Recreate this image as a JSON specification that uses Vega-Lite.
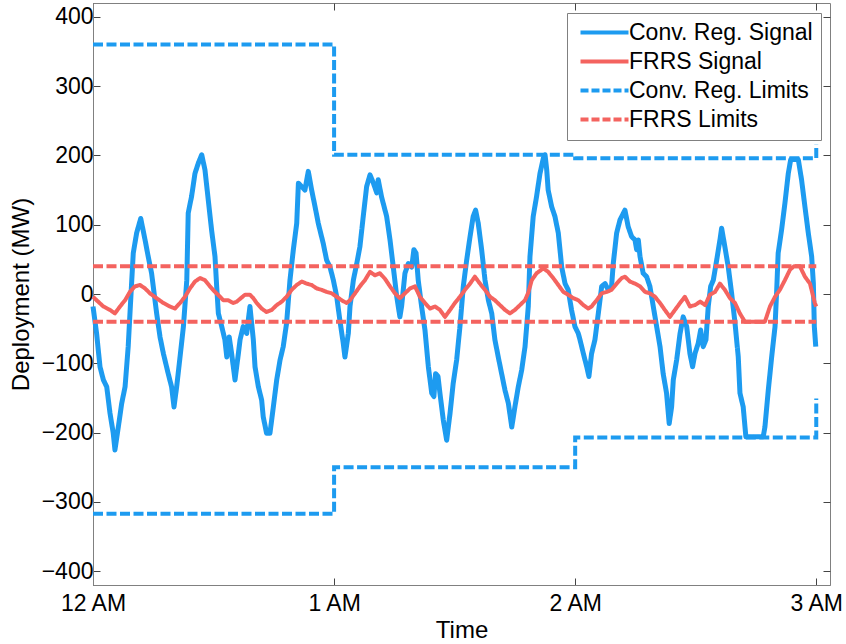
{
  "$schema": "https://vega.github.io/schema/vega-lite/v6.json",
  "width": 737,
  "height": 582,
  "autosize": {"type": "none"},
  "padding": {"left": 93, "top": 3, "right": 16, "bottom": 59},
  "background": "white",
  "config": {
    "font": "Liberation Sans",
    "view": {"stroke": "#808080", "strokeWidth": 1},
    "axis": {
      "domainColor": "#808080",
      "tickColor": "#444444",
      "tickSize": -7,
      "labelFontSize": 23,
      "titleFontSize": 24,
      "labelColor": "black",
      "titleColor": "black",
      "titleFontWeight": "normal",
      "grid": false,
      "labelFlush": false,
      "labelOverlap": false,
      "labelFont": "Liberation Sans",
      "titleFont": "Liberation Sans"
    },
    "legend": {
      "orient": "none",
      "legendX": 474,
      "legendY": 10,
      "labelFontSize": 23,
      "labelFont": "Liberation Sans",
      "labelColor": "black",
      "symbolType": "M-0.75,0H5.25",
      "symbolSize": 256,
      "symbolStrokeWidth": 4,
      "padding": 8,
      "strokeColor": "#808080",
      "fillColor": "white",
      "labelOffset": 31,
      "rowPadding": 5,
      "labelLimit": 400
    }
  },
  "datasets": {
    "conv": [
      {"s":"Conv. Reg. Signal","h":0,"v":-18},{"s":"Conv. Reg. Signal","h":0.015,"v":-57},{"s":"Conv. Reg. Signal","h":0.029,"v":-105},{"s":"Conv. Reg. Signal","h":0.043,"v":-124},{"s":"Conv. Reg. Signal","h":0.057,"v":-134},{"s":"Conv. Reg. Signal","h":0.0705,"v":-172},{"s":"Conv. Reg. Signal","h":0.084,"v":-201},{"s":"Conv. Reg. Signal","h":0.091,"v":-225},{"s":"Conv. Reg. Signal","h":0.105,"v":-192},{"s":"Conv. Reg. Signal","h":0.119,"v":-158},{"s":"Conv. Reg. Signal","h":0.133,"v":-134},{"s":"Conv. Reg. Signal","h":0.146,"v":-76},{"s":"Conv. Reg. Signal","h":0.16,"v":15},{"s":"Conv. Reg. Signal","h":0.167,"v":59},{"s":"Conv. Reg. Signal","h":0.181,"v":88},{"s":"Conv. Reg. Signal","h":0.198,"v":109},{"s":"Conv. Reg. Signal","h":0.216,"v":78},{"s":"Conv. Reg. Signal","h":0.229,"v":54},{"s":"Conv. Reg. Signal","h":0.243,"v":30},{"s":"Conv. Reg. Signal","h":0.264,"v":-28},{"s":"Conv. Reg. Signal","h":0.278,"v":-62},{"s":"Conv. Reg. Signal","h":0.292,"v":-86},{"s":"Conv. Reg. Signal","h":0.312,"v":-115},{"s":"Conv. Reg. Signal","h":0.326,"v":-134},{"s":"Conv. Reg. Signal","h":0.336,"v":-163},{"s":"Conv. Reg. Signal","h":0.347,"v":-134},{"s":"Conv. Reg. Signal","h":0.361,"v":-91},{"s":"Conv. Reg. Signal","h":0.375,"v":-47},{"s":"Conv. Reg. Signal","h":0.389,"v":20},{"s":"Conv. Reg. Signal","h":0.395,"v":117},{"s":"Conv. Reg. Signal","h":0.409,"v":141},{"s":"Conv. Reg. Signal","h":0.423,"v":174},{"s":"Conv. Reg. Signal","h":0.437,"v":189},{"s":"Conv. Reg. Signal","h":0.451,"v":201},{"s":"Conv. Reg. Signal","h":0.4645,"v":179},{"s":"Conv. Reg. Signal","h":0.478,"v":136},{"s":"Conv. Reg. Signal","h":0.492,"v":92},{"s":"Conv. Reg. Signal","h":0.506,"v":54},{"s":"Conv. Reg. Signal","h":0.513,"v":11},{"s":"Conv. Reg. Signal","h":0.52,"v":-28},{"s":"Conv. Reg. Signal","h":0.534,"v":-47},{"s":"Conv. Reg. Signal","h":0.547,"v":-66},{"s":"Conv. Reg. Signal","h":0.555,"v":-91},{"s":"Conv. Reg. Signal","h":0.565,"v":-62},{"s":"Conv. Reg. Signal","h":0.575,"v":-86},{"s":"Conv. Reg. Signal","h":0.589,"v":-124},{"s":"Conv. Reg. Signal","h":0.603,"v":-86},{"s":"Conv. Reg. Signal","h":0.61,"v":-66},{"s":"Conv. Reg. Signal","h":0.623,"v":-47},{"s":"Conv. Reg. Signal","h":0.6375,"v":-57},{"s":"Conv. Reg. Signal","h":0.651,"v":-18},{"s":"Conv. Reg. Signal","h":0.665,"v":-66},{"s":"Conv. Reg. Signal","h":0.672,"v":-105},{"s":"Conv. Reg. Signal","h":0.686,"v":-134},{"s":"Conv. Reg. Signal","h":0.6995,"v":-153},{"s":"Conv. Reg. Signal","h":0.706,"v":-177},{"s":"Conv. Reg. Signal","h":0.72,"v":-201},{"s":"Conv. Reg. Signal","h":0.734,"v":-201},{"s":"Conv. Reg. Signal","h":0.748,"v":-163},{"s":"Conv. Reg. Signal","h":0.762,"v":-124},{"s":"Conv. Reg. Signal","h":0.776,"v":-95},{"s":"Conv. Reg. Signal","h":0.789,"v":-76},{"s":"Conv. Reg. Signal","h":0.803,"v":-42},{"s":"Conv. Reg. Signal","h":0.817,"v":20},{"s":"Conv. Reg. Signal","h":0.831,"v":64},{"s":"Conv. Reg. Signal","h":0.845,"v":102},{"s":"Conv. Reg. Signal","h":0.852,"v":160},{"s":"Conv. Reg. Signal","h":0.866,"v":155},{"s":"Conv. Reg. Signal","h":0.879,"v":150},{"s":"Conv. Reg. Signal","h":0.893,"v":177},{"s":"Conv. Reg. Signal","h":0.907,"v":150},{"s":"Conv. Reg. Signal","h":0.921,"v":126},{"s":"Conv. Reg. Signal","h":0.9345,"v":102},{"s":"Conv. Reg. Signal","h":0.9415,"v":92},{"s":"Conv. Reg. Signal","h":0.955,"v":73},{"s":"Conv. Reg. Signal","h":0.969,"v":49},{"s":"Conv. Reg. Signal","h":0.983,"v":39},{"s":"Conv. Reg. Signal","h":0.997,"v":20},{"s":"Conv. Reg. Signal","h":1.011,"v":-4},{"s":"Conv. Reg. Signal","h":1.024,"v":-38},{"s":"Conv. Reg. Signal","h":1.038,"v":-71},{"s":"Conv. Reg. Signal","h":1.045,"v":-91},{"s":"Conv. Reg. Signal","h":1.059,"v":-57},{"s":"Conv. Reg. Signal","h":1.066,"v":-18},{"s":"Conv. Reg. Signal","h":1.08,"v":20},{"s":"Conv. Reg. Signal","h":1.094,"v":44},{"s":"Conv. Reg. Signal","h":1.107,"v":68},{"s":"Conv. Reg. Signal","h":1.121,"v":112},{"s":"Conv. Reg. Signal","h":1.135,"v":155},{"s":"Conv. Reg. Signal","h":1.149,"v":172},{"s":"Conv. Reg. Signal","h":1.163,"v":160},{"s":"Conv. Reg. Signal","h":1.177,"v":146},{"s":"Conv. Reg. Signal","h":1.183,"v":165},{"s":"Conv. Reg. Signal","h":1.197,"v":140},{"s":"Conv. Reg. Signal","h":1.218,"v":112},{"s":"Conv. Reg. Signal","h":1.232,"v":78},{"s":"Conv. Reg. Signal","h":1.2455,"v":39},{"s":"Conv. Reg. Signal","h":1.26,"v":-4},{"s":"Conv. Reg. Signal","h":1.273,"v":-33},{"s":"Conv. Reg. Signal","h":1.28,"v":-18},{"s":"Conv. Reg. Signal","h":1.294,"v":30},{"s":"Conv. Reg. Signal","h":1.308,"v":44},{"s":"Conv. Reg. Signal","h":1.322,"v":39},{"s":"Conv. Reg. Signal","h":1.331,"v":64},{"s":"Conv. Reg. Signal","h":1.34,"v":59},{"s":"Conv. Reg. Signal","h":1.349,"v":20},{"s":"Conv. Reg. Signal","h":1.363,"v":-18},{"s":"Conv. Reg. Signal","h":1.377,"v":-52},{"s":"Conv. Reg. Signal","h":1.391,"v":-105},{"s":"Conv. Reg. Signal","h":1.405,"v":-143},{"s":"Conv. Reg. Signal","h":1.414,"v":-148},{"s":"Conv. Reg. Signal","h":1.421,"v":-115},{"s":"Conv. Reg. Signal","h":1.431,"v":-119},{"s":"Conv. Reg. Signal","h":1.439,"v":-143},{"s":"Conv. Reg. Signal","h":1.453,"v":-182},{"s":"Conv. Reg. Signal","h":1.467,"v":-211},{"s":"Conv. Reg. Signal","h":1.481,"v":-172},{"s":"Conv. Reg. Signal","h":1.494,"v":-129},{"s":"Conv. Reg. Signal","h":1.5085,"v":-95},{"s":"Conv. Reg. Signal","h":1.522,"v":-47},{"s":"Conv. Reg. Signal","h":1.536,"v":11},{"s":"Conv. Reg. Signal","h":1.55,"v":49},{"s":"Conv. Reg. Signal","h":1.564,"v":83},{"s":"Conv. Reg. Signal","h":1.577,"v":112},{"s":"Conv. Reg. Signal","h":1.587,"v":121},{"s":"Conv. Reg. Signal","h":1.598,"v":102},{"s":"Conv. Reg. Signal","h":1.612,"v":64},{"s":"Conv. Reg. Signal","h":1.626,"v":20},{"s":"Conv. Reg. Signal","h":1.64,"v":-9},{"s":"Conv. Reg. Signal","h":1.654,"v":-28},{"s":"Conv. Reg. Signal","h":1.667,"v":-66},{"s":"Conv. Reg. Signal","h":1.681,"v":-91},{"s":"Conv. Reg. Signal","h":1.695,"v":-115},{"s":"Conv. Reg. Signal","h":1.709,"v":-139},{"s":"Conv. Reg. Signal","h":1.723,"v":-158},{"s":"Conv. Reg. Signal","h":1.737,"v":-192},{"s":"Conv. Reg. Signal","h":1.75,"v":-163},{"s":"Conv. Reg. Signal","h":1.764,"v":-134},{"s":"Conv. Reg. Signal","h":1.778,"v":-110},{"s":"Conv. Reg. Signal","h":1.792,"v":-76},{"s":"Conv. Reg. Signal","h":1.8055,"v":-18},{"s":"Conv. Reg. Signal","h":1.8125,"v":54},{"s":"Conv. Reg. Signal","h":1.826,"v":112},{"s":"Conv. Reg. Signal","h":1.84,"v":141},{"s":"Conv. Reg. Signal","h":1.854,"v":174},{"s":"Conv. Reg. Signal","h":1.868,"v":196},{"s":"Conv. Reg. Signal","h":1.875,"v":201},{"s":"Conv. Reg. Signal","h":1.882,"v":179},{"s":"Conv. Reg. Signal","h":1.888,"v":150},{"s":"Conv. Reg. Signal","h":1.9025,"v":126},{"s":"Conv. Reg. Signal","h":1.916,"v":112},{"s":"Conv. Reg. Signal","h":1.93,"v":88},{"s":"Conv. Reg. Signal","h":1.937,"v":64},{"s":"Conv. Reg. Signal","h":1.944,"v":39},{"s":"Conv. Reg. Signal","h":1.958,"v":15},{"s":"Conv. Reg. Signal","h":1.971,"v":6},{"s":"Conv. Reg. Signal","h":1.985,"v":-23},{"s":"Conv. Reg. Signal","h":1.999,"v":-47},{"s":"Conv. Reg. Signal","h":2.013,"v":-57},{"s":"Conv. Reg. Signal","h":2.02,"v":-66},{"s":"Conv. Reg. Signal","h":2.034,"v":-86},{"s":"Conv. Reg. Signal","h":2.048,"v":-105},{"s":"Conv. Reg. Signal","h":2.057,"v":-119},{"s":"Conv. Reg. Signal","h":2.068,"v":-86},{"s":"Conv. Reg. Signal","h":2.082,"v":-66},{"s":"Conv. Reg. Signal","h":2.096,"v":-28},{"s":"Conv. Reg. Signal","h":2.11,"v":11},{"s":"Conv. Reg. Signal","h":2.124,"v":15},{"s":"Conv. Reg. Signal","h":2.137,"v":6},{"s":"Conv. Reg. Signal","h":2.151,"v":11},{"s":"Conv. Reg. Signal","h":2.158,"v":44},{"s":"Conv. Reg. Signal","h":2.172,"v":88},{"s":"Conv. Reg. Signal","h":2.186,"v":107},{"s":"Conv. Reg. Signal","h":2.2065,"v":121},{"s":"Conv. Reg. Signal","h":2.22,"v":97},{"s":"Conv. Reg. Signal","h":2.234,"v":83},{"s":"Conv. Reg. Signal","h":2.248,"v":78},{"s":"Conv. Reg. Signal","h":2.255,"v":64},{"s":"Conv. Reg. Signal","h":2.262,"v":78},{"s":"Conv. Reg. Signal","h":2.269,"v":54},{"s":"Conv. Reg. Signal","h":2.282,"v":30},{"s":"Conv. Reg. Signal","h":2.2965,"v":25},{"s":"Conv. Reg. Signal","h":2.31,"v":11},{"s":"Conv. Reg. Signal","h":2.324,"v":-18},{"s":"Conv. Reg. Signal","h":2.338,"v":-47},{"s":"Conv. Reg. Signal","h":2.352,"v":-76},{"s":"Conv. Reg. Signal","h":2.365,"v":-115},{"s":"Conv. Reg. Signal","h":2.379,"v":-143},{"s":"Conv. Reg. Signal","h":2.39,"v":-187},{"s":"Conv. Reg. Signal","h":2.4,"v":-163},{"s":"Conv. Reg. Signal","h":2.407,"v":-124},{"s":"Conv. Reg. Signal","h":2.421,"v":-95},{"s":"Conv. Reg. Signal","h":2.435,"v":-57},{"s":"Conv. Reg. Signal","h":2.448,"v":-33},{"s":"Conv. Reg. Signal","h":2.4625,"v":-47},{"s":"Conv. Reg. Signal","h":2.476,"v":-86},{"s":"Conv. Reg. Signal","h":2.487,"v":-105},{"s":"Conv. Reg. Signal","h":2.497,"v":-86},{"s":"Conv. Reg. Signal","h":2.5105,"v":-71},{"s":"Conv. Reg. Signal","h":2.5205,"v":-52},{"s":"Conv. Reg. Signal","h":2.531,"v":-76},{"s":"Conv. Reg. Signal","h":2.5425,"v":-66},{"s":"Conv. Reg. Signal","h":2.552,"v":-18},{"s":"Conv. Reg. Signal","h":2.562,"v":11},{"s":"Conv. Reg. Signal","h":2.573,"v":20},{"s":"Conv. Reg. Signal","h":2.587,"v":49},{"s":"Conv. Reg. Signal","h":2.6005,"v":78},{"s":"Conv. Reg. Signal","h":2.6075,"v":95},{"s":"Conv. Reg. Signal","h":2.621,"v":68},{"s":"Conv. Reg. Signal","h":2.635,"v":39},{"s":"Conv. Reg. Signal","h":2.649,"v":1},{"s":"Conv. Reg. Signal","h":2.663,"v":-42},{"s":"Conv. Reg. Signal","h":2.6765,"v":-91},{"s":"Conv. Reg. Signal","h":2.6835,"v":-143},{"s":"Conv. Reg. Signal","h":2.697,"v":-163},{"s":"Conv. Reg. Signal","h":2.708,"v":-206},{"s":"Conv. Reg. Signal","h":2.78,"v":-206},{"s":"Conv. Reg. Signal","h":2.787,"v":-192},{"s":"Conv. Reg. Signal","h":2.801,"v":-139},{"s":"Conv. Reg. Signal","h":2.815,"v":-91},{"s":"Conv. Reg. Signal","h":2.829,"v":-47},{"s":"Conv. Reg. Signal","h":2.836,"v":6},{"s":"Conv. Reg. Signal","h":2.842,"v":59},{"s":"Conv. Reg. Signal","h":2.856,"v":92},{"s":"Conv. Reg. Signal","h":2.87,"v":131},{"s":"Conv. Reg. Signal","h":2.884,"v":174},{"s":"Conv. Reg. Signal","h":2.894,"v":194},{"s":"Conv. Reg. Signal","h":2.9255,"v":194},{"s":"Conv. Reg. Signal","h":2.939,"v":165},{"s":"Conv. Reg. Signal","h":2.953,"v":126},{"s":"Conv. Reg. Signal","h":2.967,"v":88},{"s":"Conv. Reg. Signal","h":2.981,"v":54},{"s":"Conv. Reg. Signal","h":2.988,"v":15},{"s":"Conv. Reg. Signal","h":2.992,"v":-47},{"s":"Conv. Reg. Signal","h":2.998,"v":-76}
    ],
    "frrs": [
      {"s":"FRRS Signal","h":0,"v":-4},{"s":"FRRS Signal","h":0.015,"v":-9},{"s":"FRRS Signal","h":0.043,"v":-18},{"s":"FRRS Signal","h":0.0705,"v":-23},{"s":"FRRS Signal","h":0.091,"v":-28},{"s":"FRRS Signal","h":0.112,"v":-18},{"s":"FRRS Signal","h":0.133,"v":-9},{"s":"FRRS Signal","h":0.153,"v":3},{"s":"FRRS Signal","h":0.174,"v":11},{"s":"FRRS Signal","h":0.195,"v":13},{"s":"FRRS Signal","h":0.216,"v":8},{"s":"FRRS Signal","h":0.236,"v":1},{"s":"FRRS Signal","h":0.264,"v":-6},{"s":"FRRS Signal","h":0.292,"v":-13},{"s":"FRRS Signal","h":0.319,"v":-18},{"s":"FRRS Signal","h":0.34,"v":-21},{"s":"FRRS Signal","h":0.361,"v":-13},{"s":"FRRS Signal","h":0.3815,"v":-4},{"s":"FRRS Signal","h":0.402,"v":8},{"s":"FRRS Signal","h":0.423,"v":18},{"s":"FRRS Signal","h":0.444,"v":23},{"s":"FRRS Signal","h":0.4645,"v":20},{"s":"FRRS Signal","h":0.485,"v":11},{"s":"FRRS Signal","h":0.506,"v":3},{"s":"FRRS Signal","h":0.527,"v":-4},{"s":"FRRS Signal","h":0.5405,"v":-9},{"s":"FRRS Signal","h":0.561,"v":-9},{"s":"FRRS Signal","h":0.582,"v":-13},{"s":"FRRS Signal","h":0.596,"v":-11},{"s":"FRRS Signal","h":0.61,"v":-7},{"s":"FRRS Signal","h":0.6305,"v":-1},{"s":"FRRS Signal","h":0.651,"v":-1},{"s":"FRRS Signal","h":0.665,"v":-6},{"s":"FRRS Signal","h":0.679,"v":-13},{"s":"FRRS Signal","h":0.6995,"v":-21},{"s":"FRRS Signal","h":0.72,"v":-26},{"s":"FRRS Signal","h":0.741,"v":-23},{"s":"FRRS Signal","h":0.762,"v":-16},{"s":"FRRS Signal","h":0.783,"v":-11},{"s":"FRRS Signal","h":0.803,"v":-4},{"s":"FRRS Signal","h":0.824,"v":6},{"s":"FRRS Signal","h":0.845,"v":13},{"s":"FRRS Signal","h":0.866,"v":18},{"s":"FRRS Signal","h":0.886,"v":15},{"s":"FRRS Signal","h":0.907,"v":13},{"s":"FRRS Signal","h":0.928,"v":8},{"s":"FRRS Signal","h":0.9485,"v":6},{"s":"FRRS Signal","h":0.969,"v":3},{"s":"FRRS Signal","h":0.99,"v":1},{"s":"FRRS Signal","h":1.011,"v":-4},{"s":"FRRS Signal","h":1.0315,"v":-9},{"s":"FRRS Signal","h":1.052,"v":-13},{"s":"FRRS Signal","h":1.066,"v":-9},{"s":"FRRS Signal","h":1.087,"v":1},{"s":"FRRS Signal","h":1.107,"v":11},{"s":"FRRS Signal","h":1.128,"v":20},{"s":"FRRS Signal","h":1.149,"v":32},{"s":"FRRS Signal","h":1.1695,"v":27},{"s":"FRRS Signal","h":1.19,"v":30},{"s":"FRRS Signal","h":1.211,"v":22},{"s":"FRRS Signal","h":1.232,"v":11},{"s":"FRRS Signal","h":1.2525,"v":1},{"s":"FRRS Signal","h":1.273,"v":-6},{"s":"FRRS Signal","h":1.294,"v":1},{"s":"FRRS Signal","h":1.315,"v":8},{"s":"FRRS Signal","h":1.3355,"v":11},{"s":"FRRS Signal","h":1.356,"v":-4},{"s":"FRRS Signal","h":1.377,"v":-13},{"s":"FRRS Signal","h":1.398,"v":-21},{"s":"FRRS Signal","h":1.4185,"v":-18},{"s":"FRRS Signal","h":1.439,"v":-23},{"s":"FRRS Signal","h":1.46,"v":-33},{"s":"FRRS Signal","h":1.481,"v":-23},{"s":"FRRS Signal","h":1.501,"v":-13},{"s":"FRRS Signal","h":1.522,"v":-4},{"s":"FRRS Signal","h":1.543,"v":6},{"s":"FRRS Signal","h":1.564,"v":15},{"s":"FRRS Signal","h":1.584,"v":25},{"s":"FRRS Signal","h":1.605,"v":15},{"s":"FRRS Signal","h":1.626,"v":6},{"s":"FRRS Signal","h":1.647,"v":-4},{"s":"FRRS Signal","h":1.667,"v":-9},{"s":"FRRS Signal","h":1.688,"v":-16},{"s":"FRRS Signal","h":1.709,"v":-23},{"s":"FRRS Signal","h":1.7295,"v":-28},{"s":"FRRS Signal","h":1.75,"v":-23},{"s":"FRRS Signal","h":1.771,"v":-16},{"s":"FRRS Signal","h":1.792,"v":-9},{"s":"FRRS Signal","h":1.8055,"v":2},{"s":"FRRS Signal","h":1.82,"v":20},{"s":"FRRS Signal","h":1.84,"v":30},{"s":"FRRS Signal","h":1.868,"v":37},{"s":"FRRS Signal","h":1.888,"v":32},{"s":"FRRS Signal","h":1.909,"v":23},{"s":"FRRS Signal","h":1.93,"v":13},{"s":"FRRS Signal","h":1.951,"v":3},{"s":"FRRS Signal","h":1.971,"v":-1},{"s":"FRRS Signal","h":1.992,"v":-6},{"s":"FRRS Signal","h":2.013,"v":-9},{"s":"FRRS Signal","h":2.034,"v":-16},{"s":"FRRS Signal","h":2.054,"v":-21},{"s":"FRRS Signal","h":2.068,"v":-18},{"s":"FRRS Signal","h":2.089,"v":-9},{"s":"FRRS Signal","h":2.11,"v":1},{"s":"FRRS Signal","h":2.131,"v":3},{"s":"FRRS Signal","h":2.151,"v":6},{"s":"FRRS Signal","h":2.172,"v":15},{"s":"FRRS Signal","h":2.193,"v":23},{"s":"FRRS Signal","h":2.2065,"v":25},{"s":"FRRS Signal","h":2.227,"v":18},{"s":"FRRS Signal","h":2.248,"v":15},{"s":"FRRS Signal","h":2.269,"v":11},{"s":"FRRS Signal","h":2.29,"v":3},{"s":"FRRS Signal","h":2.31,"v":1},{"s":"FRRS Signal","h":2.331,"v":-4},{"s":"FRRS Signal","h":2.352,"v":-13},{"s":"FRRS Signal","h":2.372,"v":-23},{"s":"FRRS Signal","h":2.393,"v":-33},{"s":"FRRS Signal","h":2.414,"v":-23},{"s":"FRRS Signal","h":2.435,"v":-13},{"s":"FRRS Signal","h":2.455,"v":-4},{"s":"FRRS Signal","h":2.476,"v":-18},{"s":"FRRS Signal","h":2.497,"v":-16},{"s":"FRRS Signal","h":2.5185,"v":-11},{"s":"FRRS Signal","h":2.539,"v":-16},{"s":"FRRS Signal","h":2.559,"v":-1},{"s":"FRRS Signal","h":2.58,"v":3},{"s":"FRRS Signal","h":2.6005,"v":15},{"s":"FRRS Signal","h":2.621,"v":6},{"s":"FRRS Signal","h":2.642,"v":-6},{"s":"FRRS Signal","h":2.663,"v":-13},{"s":"FRRS Signal","h":2.683,"v":-28},{"s":"FRRS Signal","h":2.704,"v":-40},{"s":"FRRS Signal","h":2.787,"v":-40},{"s":"FRRS Signal","h":2.808,"v":-18},{"s":"FRRS Signal","h":2.829,"v":-4},{"s":"FRRS Signal","h":2.849,"v":6},{"s":"FRRS Signal","h":2.87,"v":20},{"s":"FRRS Signal","h":2.891,"v":35},{"s":"FRRS Signal","h":2.9075,"v":40},{"s":"FRRS Signal","h":2.932,"v":40},{"s":"FRRS Signal","h":2.953,"v":25},{"s":"FRRS Signal","h":2.974,"v":15},{"s":"FRRS Signal","h":2.994,"v":-13},{"s":"FRRS Signal","h":3.0,"v":-18}
    ],
    "convlim": [
      {"s":"Conv. Reg. Limits","p":"up","i":0,"h":0,"v":360},{"s":"Conv. Reg. Limits","p":"up","i":1,"h":1,"v":360},{"s":"Conv. Reg. Limits","p":"up","i":2,"h":1,"v":201},{"s":"Conv. Reg. Limits","p":"up","i":3,"h":2,"v":201},{"s":"Conv. Reg. Limits","p":"up","i":4,"h":2,"v":196},{"s":"Conv. Reg. Limits","p":"up","i":5,"h":3,"v":196},{"s":"Conv. Reg. Limits","p":"up","i":6,"h":3,"v":216},
      {"s":"Conv. Reg. Limits","p":"lo","i":0,"h":0,"v":-317},{"s":"Conv. Reg. Limits","p":"lo","i":1,"h":1,"v":-317},{"s":"Conv. Reg. Limits","p":"lo","i":2,"h":1,"v":-250},{"s":"Conv. Reg. Limits","p":"lo","i":3,"h":2,"v":-250},{"s":"Conv. Reg. Limits","p":"lo","i":4,"h":2,"v":-207},{"s":"Conv. Reg. Limits","p":"lo","i":5,"h":3,"v":-207},{"s":"Conv. Reg. Limits","p":"lo","i":6,"h":3,"v":-151}
    ],
    "frrslim": [
      {"s":"FRRS Limits","p":"up","i":0,"h":0,"v":40},{"s":"FRRS Limits","p":"up","i":1,"h":3,"v":40},
      {"s":"FRRS Limits","p":"lo","i":0,"h":0,"v":-40},{"s":"FRRS Limits","p":"lo","i":1,"h":3,"v":-40}
    ]
  },
  "layer": [
    {
      "data": {"name": "conv"},
      "mark": {"type": "line", "strokeWidth": 5, "strokeJoin": "round"},
      "encoding": {
        "x": {"field": "h", "type": "quantitative", "scale": {"domain": [0, 3.057], "nice": false, "zero": false},
              "axis": {"orient": "bottom", "values": [0, 1, 2, 3], "labelExpr": "datum.value == 0 ? '12 AM' : datum.value + ' AM'", "title": "Time", "labelPadding": 14, "titlePadding": 3}},
        "y": {"field": "v", "type": "quantitative", "scale": {"domain": [-420, 420], "nice": false, "zero": false},
              "axis": {"orient": "left", "values": [-400, -300, -200, -100, 0, 100, 200, 300, 400], "title": "Deployment (MW)", "labelPadding": 7, "titlePadding": 8}},
        "color": {"field": "s", "type": "nominal", "title": null,
                  "scale": {"domain": ["Conv. Reg. Signal", "FRRS Signal", "Conv. Reg. Limits", "FRRS Limits"], "range": ["#1D9BF0", "#F4635F", "#1D9BF0", "#F4635F"]}},
        "strokeDash": {"field": "s", "type": "nominal", "title": null,
                  "scale": {"domain": ["Conv. Reg. Signal", "FRRS Signal", "Conv. Reg. Limits", "FRRS Limits"], "range": [[1, 0], [1, 0], [8, 3], [8, 3]]}}
      }
    },
    {
      "data": {"name": "frrs"},
      "mark": {"type": "line", "strokeWidth": 4, "strokeJoin": "round"},
      "encoding": {
        "x": {"field": "h", "type": "quantitative", "axis": {"orient": "top", "values": [0, 1, 2, 3], "labels": false, "title": null, "domain": false}},
        "y": {"field": "v", "type": "quantitative", "axis": {"orient": "right", "values": [-400, -300, -200, -100, 0, 100, 200, 300, 400], "labels": false, "title": null, "domain": false}},
        "color": {"field": "s", "type": "nominal", "title": null},
        "strokeDash": {"field": "s", "type": "nominal", "title": null}
      }
    },
    {
      "data": {"name": "convlim"},
      "mark": {"type": "line", "strokeWidth": 4, "strokeCap": "butt", "strokeDash": [10, 3.5]},
      "encoding": {
        "x": {"field": "h", "type": "quantitative", "axis": null},
        "y": {"field": "v", "type": "quantitative", "axis": null},
        "detail": {"field": "p"},
        "order": {"field": "i"},
        "color": {"field": "s", "type": "nominal", "title": null}
      }
    },
    {
      "data": {"name": "frrslim"},
      "mark": {"type": "line", "strokeWidth": 4, "strokeCap": "butt", "strokeDash": [10, 3.5]},
      "encoding": {
        "x": {"field": "h", "type": "quantitative", "axis": null},
        "y": {"field": "v", "type": "quantitative", "axis": null},
        "detail": {"field": "p"},
        "order": {"field": "i"},
        "color": {"field": "s", "type": "nominal", "title": null}
      }
    }
  ],
  "resolve": {"axis": {"x": "independent", "y": "independent"}}
}
